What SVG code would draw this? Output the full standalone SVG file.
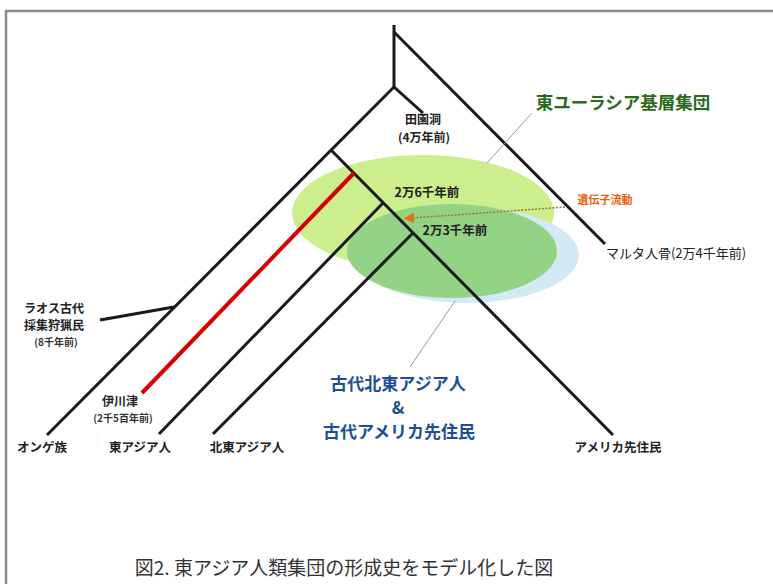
<svg xmlns="http://www.w3.org/2000/svg" width="773" height="584" viewBox="0 0 773 584">
<defs>
<style>
text{font-family:"Noto Sans CJK JP","Noto Sans",sans-serif;}
.ln{stroke:#1a1a1a;stroke-width:3;fill:none;stroke-linecap:butt;}
.lbl{font-size:12.5px;font-weight:bold;fill:#222;text-anchor:middle;}
.st{font-size:12px;font-weight:bold;fill:#222;text-anchor:middle;}
.sm{font-size:10px;font-weight:bold;fill:#333;text-anchor:middle;}
.lead{stroke:#999;stroke-width:1;fill:none;}
.blue{font-size:17px;font-weight:bold;fill:#1d4f96;text-anchor:middle;}
</style>
<marker id="ah" viewBox="0 0 10 10" refX="2" refY="5" markerWidth="7" markerHeight="7" orient="auto-start-reverse">
<path d="M0,0 L10,5 L0,10 z" fill="#e0701a"/>
</marker>
</defs>
<rect width="773" height="584" fill="#fff"/>
<path d="M6,584 V11 H773" stroke="#8a8a8a" stroke-width="2.5" fill="none"/>

<g id="ellipses">
<ellipse cx="423" cy="213" rx="131" ry="58" fill="#cdee8c"/>
<ellipse cx="467" cy="255" rx="112" ry="48" fill="#d3eaf6"/>
<ellipse cx="452" cy="251" rx="105" ry="47" fill="#93d385"/>
</g>

<g id="connectors">
<line class="ln" x1="394" y1="25" x2="394" y2="88"/>
<line class="ln" x1="394" y1="32" x2="605" y2="244"/>
<line class="ln" x1="394" y1="87" x2="47" y2="435"/>
<line class="ln" x1="394" y1="87" x2="423" y2="113"/>
<line class="ln" x1="331" y1="150" x2="613" y2="435"/>
<line class="ln" x1="383" y1="203" x2="159" y2="434"/>
<line class="ln" x1="413" y1="233" x2="213" y2="434"/>
<line class="ln" x1="174" y1="307" x2="100" y2="320"/>
<line x1="354" y1="173" x2="142" y2="393" stroke="#d60000" stroke-width="4"/>
<line class="lead" x1="532" y1="113" x2="487" y2="163"/>
<line class="lead" x1="410" y1="367" x2="455" y2="301"/>
<line x1="565" y1="207" x2="412" y2="218" stroke="#9a7a2a" stroke-width="1.5" stroke-dasharray="2,1.5" marker-end="url(#ah)"/>
</g>

<g id="n-tianyuan"><text class="st" x="423" y="124">田園洞</text><text class="st" x="424" y="142">(4万年前)</text></g>
<g id="n-eurasia"><text x="623" y="109" font-size="17.5" font-weight="bold" fill="#2b6a1c" text-anchor="middle">東ユーラシア基層集団</text></g>
<g id="n-26k"><text class="lbl" x="427" y="197">2万6千年前</text></g>
<g id="n-23k"><text class="lbl" x="455" y="235">2万3千年前</text></g>
<g id="n-geneflow"><text x="605" y="204" font-size="11" font-weight="bold" fill="#f05a0a" text-anchor="middle">遺伝子流動</text></g>
<g id="n-malta"><text x="676" y="258" font-size="13" fill="#222" text-anchor="middle">マルタ人骨(2万4千年前)</text></g>
<g id="n-laos"><text class="st" x="54" y="313">ラオス古代</text><text class="st" x="54" y="330">採集狩猟民</text><text class="sm" x="56" y="346">(8千年前)</text></g>
<g id="n-ikawazu"><text class="st" x="120" y="406">伊川津</text><text class="sm" x="123" y="422">(2千5百年前)</text></g>
<g id="n-onge"><text class="lbl" x="42" y="452">オンゲ族</text></g>
<g id="n-eastasian"><text class="lbl" x="140" y="452">東アジア人</text></g>
<g id="n-neasian"><text class="lbl" x="247" y="452">北東アジア人</text></g>
<g id="n-native"><text class="lbl" x="618" y="452">アメリカ先住民</text></g>
<g id="n-ancient"><text class="blue" x="398" y="390">古代北東アジア人</text><text class="blue" x="398" y="414" font-size="13">&amp;</text><text class="blue" x="399" y="438">古代アメリカ先住民</text></g>
<g id="caption"><text x="344" y="575" font-size="19" fill="#333" text-anchor="middle">図2. 東アジア人類集団の形成史をモデル化した図</text></g>
</svg>
